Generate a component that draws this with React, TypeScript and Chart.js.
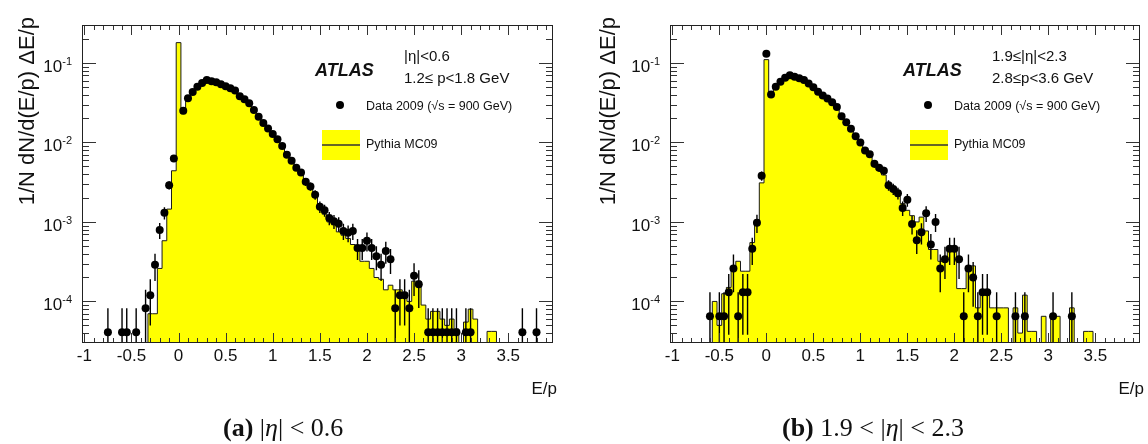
import React, { useEffect, useRef } from "react";
import { Chart, registerables } from "chart.js";

Chart.register(...registerables);

// ---------------- axis / binning ----------------
const BIN_WIDTH = 0.05;
const X_MIN = -1.025;
const X_MAX = 3.975;
const Y_MIN = 3e-5;
const Y_MAX = 0.3;

const xTickValues = [-1, -0.5, 0, 0.5, 1, 1.5, 2, 2.5, 3, 3.5];
const xTickLabels = ["-1", "-0.5", "0", "0.5", "1", "1.5", "2", "2.5", "3", "3.5"];
const yTickExponents = [-4, -3, -2, -1];
const yTickBase = "10";

const yTitle = "1/N dN/d(E/p) \u0394E/p";
const xTitle = "E/p";
const atlasLabel = "ATLAS";
const legendDataLabel = "Data 2009 (\u221As = 900 GeV)";
const legendMCLabel = "Pythia MC09";

// ---------------- panel (a): |eta| < 0.6, 1.2 <= p < 1.8 GeV ----------------
const etaTextA = "|\u03B7|<0.6";
const pTextA = "1.2\u2264 p<1.8 GeV";
const unitA = 4.1e-5; // level of a single entry
const dataA: [number, number][] = [
  [-0.75, 4.1e-5], [-0.6, 4.1e-5], [-0.55, 4.1e-5], [-0.45, 4.1e-5], [-0.35, 8.2e-5],
  [-0.3, 1.2e-4], [-0.25, 2.9e-4], [-0.2, 7.9e-4], [-0.15, 1.3e-3], [-0.1, 2.9e-3], [-0.05, 6.3e-3],
  [0.05, 0.025], [0.1, 0.036], [0.15, 0.043], [0.2, 0.05], [0.25, 0.056], [0.3, 0.061],
  [0.35, 0.059], [0.4, 0.057], [0.45, 0.054], [0.5, 0.051], [0.55, 0.048], [0.6, 0.045],
  [0.65, 0.038], [0.7, 0.035], [0.75, 0.031], [0.8, 0.0255], [0.85, 0.021], [0.9, 0.0175],
  [0.95, 0.015], [1.0, 0.0128], [1.05, 0.011], [1.1, 0.009], [1.15, 0.007], [1.2, 0.0059],
  [1.25, 0.0048], [1.3, 0.0042], [1.35, 0.0032], [1.4, 0.0028], [1.45, 0.0022], [1.5, 0.00155],
  [1.55, 0.0014], [1.6, 0.00112], [1.65, 0.00102], [1.7, 0.00095], [1.75, 0.00077], [1.8, 0.00073],
  [1.85, 0.00077], [1.9, 0.00047], [1.95, 0.00047], [2.0, 0.00058], [2.05, 0.00047], [2.1, 0.00037],
  [2.15, 0.00029], [2.2, 0.00043], [2.25, 0.00034], [2.3, 8.2e-5], [2.35, 1.2e-4], [2.4, 1.2e-4],
  [2.45, 8.2e-5], [2.5, 2.1e-4], [2.55, 1.65e-4],
  [2.65, 4.1e-5], [2.7, 4.1e-5], [2.75, 4.1e-5], [2.8, 4.1e-5], [2.85, 4.1e-5], [2.9, 4.1e-5],
  [2.95, 4.1e-5], [3.05, 4.1e-5], [3.1, 4.1e-5], [3.65, 4.1e-5], [3.8, 4.1e-5],
];
const mcStartA = -0.3; // centre of first MC bin
const mcValuesA = [
  7e-5, 7e-5, 2.6e-4, 5.8e-4, 1.45e-3, 4.4e-3,
  0.18, 0.023, 0.034, 0.042, 0.049, 0.055, 0.058, 0.058, 0.056, 0.053,
  0.05, 0.047, 0.043, 0.038, 0.034, 0.03, 0.025, 0.021, 0.0175, 0.0145,
  0.0122, 0.0102, 0.0085, 0.0068, 0.0057, 0.0047, 0.0039, 0.0031, 0.0026, 0.0021,
  0.0015, 0.00125, 0.001, 0.00092, 0.00075, 0.00068, 0.00062, 0.00052, 0.00047, 0.00032,
  0.00032, 0.00026, 0.0002, 0.00019, 0.00014, 0.00016, 0.00014, 0.00014, 0.00013, 0.0001,
  0.00018, 0.00018, 9e-5, 6e-5, 7.5e-5, 7.5e-5, 6e-5, 5e-5, 6e-5, 4.5e-5,
  0, 5.5e-5, 8e-5, 6e-5, 0, 0, 4.2e-5, 4.2e-5,
];

// ---------------- panel (b): 1.9 <= |eta| < 2.3, 2.8 <= p < 3.6 GeV ----------------
const etaTextB = "1.9\u2264|\u03B7|<2.3";
const pTextB = "2.8\u2264p<3.6 GeV";
const unitB = 6.5e-5;
const dataB: [number, number][] = [
  [-0.6, 6.5e-5], [-0.5, 6.5e-5], [-0.45, 6.5e-5], [-0.4, 1.3e-4], [-0.35, 2.6e-4],
  [-0.3, 6.5e-5], [-0.25, 1.3e-4], [-0.2, 1.3e-4], [-0.15, 4.6e-4], [-0.1, 9.8e-4], [-0.05, 3.8e-3],
  [0, 0.13], [0.05, 0.04], [0.1, 0.05], [0.15, 0.058], [0.2, 0.065], [0.25, 0.07], [0.3, 0.067],
  [0.35, 0.064], [0.4, 0.061], [0.45, 0.055], [0.5, 0.0495], [0.55, 0.0434], [0.6, 0.039],
  [0.65, 0.0357], [0.7, 0.032], [0.75, 0.028], [0.8, 0.0214], [0.85, 0.018], [0.9, 0.0149],
  [0.95, 0.012], [1.0, 0.01], [1.05, 0.0079], [1.1, 0.0071], [1.15, 0.0054], [1.2, 0.0048],
  [1.25, 0.0044], [1.3, 0.0029], [1.35, 0.0026], [1.4, 0.0023], [1.45, 0.0015], [1.5, 0.0019],
  [1.55, 9.4e-4], [1.6, 5.9e-4], [1.65, 7.4e-4], [1.7, 1.29e-3], [1.75, 5.2e-4], [1.8, 1.0e-3],
  [1.85, 2.6e-4], [1.9, 3.4e-4], [1.95, 4.6e-4], [2.0, 4.6e-4], [2.05, 3.4e-4], [2.1, 6.5e-5],
  [2.15, 2.6e-4], [2.2, 2.0e-4], [2.25, 6.5e-5], [2.3, 1.3e-4], [2.35, 1.3e-4], [2.45, 6.5e-5],
  [2.65, 6.5e-5], [2.75, 6.5e-5], [3.05, 6.5e-5], [3.25, 6.5e-5],
];
const mcStartB = -0.55;
const mcValuesB = [
  1.0e-4, 5e-5, 1.25e-4, 1.5e-4, 2.6e-4, 3.2e-4, 2.4e-4, 2.4e-4, 5.5e-4, 1.05e-3, 3.1e-3,
  0.11,
  0.038, 0.048, 0.056, 0.062, 0.066, 0.066, 0.063, 0.059, 0.054, 0.048,
  0.043, 0.038, 0.034, 0.03, 0.026, 0.021, 0.0175, 0.0145, 0.0118,
  0.0098, 0.008, 0.0068, 0.0055, 0.0046, 0.0039, 0.0031, 0.0026, 0.0021, 0.0017,
  0.0014, 0.0012, 0.001, 0.00115, 0.00077, 0.00045, 0.00045, 0.00032, 0.00035, 0.00047,
  0.00047, 1.45e-4, 1.45e-4, 2.8e-4, 2.8e-4, 8.3e-5, 1.3e-4, 1.3e-4, 8.3e-5, 8.3e-5,
  8.3e-5, 8.3e-5, 0, 8.3e-5, 4e-5, 1.2e-4, 4.2e-5, 4.2e-5, 0, 6.5e-5,
  0, 6.5e-5, 6.5e-5, 0, 0, 8.3e-5, 0, 0, 4.2e-5, 4.2e-5,
];

// ---------------- styling ----------------
const FONT = '"Liberation Sans", Arial, Helvetica, sans-serif';
const YELLOW = "#ffff00";
const INK = "#111";

type Panel = {
  data: [number, number][];
  mcStart: number;
  mcValues: number[];
  unit: number;
  etaText: string;
  pText: string;
  yAxisWidth: number;
  padRight: number;
  yTitleX: number;
};

const CANVAS_W = 574;
const CANVAS_H = 444;
const PLOT_TOP = 25;
const PLOT_BOTTOM = 343;

function histogramPoints(start: number, values: number[]) {
  const floor = Y_MIN / 10; // empty bins drop below the frame (clipped)
  const h = BIN_WIDTH / 2;
  const pts: { x: number; y: number }[] = [{ x: start - h, y: floor }];
  values.forEach((v, i) => pts.push({ x: start + i * BIN_WIDTH - h, y: v > 0 ? v : floor }));
  pts.push({ x: start + values.length * BIN_WIDTH - h, y: floor });
  return pts;
}

function rootPlugin(p: Panel) {
  return {
    id: "rootStyle",
    afterDatasetsDraw(chart: any) {
      const ctx = chart.ctx;
      const { left, right, top, bottom } = chart.chartArea;
      const ys = chart.scales.y;
      const xs = chart.scales.x;
      ctx.save();
      ctx.beginPath();
      ctx.rect(left, top, right - left, bottom - top);
      ctx.clip();
      ctx.strokeStyle = "#000";
      ctx.lineWidth = 1.4;
      ctx.beginPath();
      p.data.forEach(([x, v]) => {
        const err = Math.sqrt(v / p.unit) * p.unit;
        const hi = v + err;
        const lo = v - err;
        const px = xs.getPixelForValue(x);
        const yHi = ys.getPixelForValue(hi);
        const yLo = lo > Y_MIN ? ys.getPixelForValue(lo) : bottom;
        ctx.moveTo(px, yHi);
        ctx.lineTo(px, yLo);
      });
      ctx.stroke();
      ctx.restore();
    },
    afterDraw(chart: any) {
      const ctx = chart.ctx;
      const { left, right, top, bottom } = chart.chartArea;
      const xs = chart.scales.x;
      const ys = chart.scales.y;
      ctx.save();
      // ticks (inward, all four sides)
      ctx.strokeStyle = "#333";
      ctx.lineWidth = 1;
      ctx.beginPath();
      for (let k = -10; k <= 39; k++) {
        const px = Math.round(xs.getPixelForValue(k / 10)) + 0.5;
        const len = k % 5 === 0 ? 10 : 5;
        ctx.moveTo(px, bottom);
        ctx.lineTo(px, bottom - len);
        ctx.moveTo(px, top);
        ctx.lineTo(px, top + len);
      }
      for (let d = -5; d <= -1; d++) {
        for (let m = 1; m <= 9; m++) {
          const v = m * Math.pow(10, d);
          if (v <= Y_MIN * 1.0001 || v >= Y_MAX * 0.9999) continue;
          const py = Math.round(ys.getPixelForValue(v)) + 0.5;
          const len = m === 1 ? 14 : 7;
          ctx.moveTo(left, py);
          ctx.lineTo(left + len, py);
          ctx.moveTo(right, py);
          ctx.lineTo(right - len, py);
        }
      }
      ctx.stroke();
      // frame
      ctx.strokeStyle = "#222";
      ctx.strokeRect(left + 0.5, top + 0.5, right - left - 1, bottom - top - 1);

      ctx.fillStyle = INK;
      // y tick labels 10^n
      yTickExponents.forEach((e) => {
        const py = ys.getPixelForValue(Math.pow(10, e));
        const sup = String(e);
        ctx.font = `11px ${FONT}`;
        const supW = ctx.measureText(sup).width;
        ctx.textAlign = "right";
        ctx.textBaseline = "alphabetic";
        ctx.fillText(sup, left - 10, py + 2);
        ctx.font = `17px ${FONT}`;
        ctx.fillText(yTickBase, left - 10 - supW, py + 9);
      });

      // y title (rotated, top aligned)
      ctx.save();
      ctx.translate(p.yTitleX, 17);
      ctx.rotate(-Math.PI / 2);
      ctx.font = `22px ${FONT}`;
      ctx.textAlign = "right";
      ctx.textBaseline = "middle";
      ctx.fillText(yTitle, 0, 0);
      ctx.restore();

      // x title at right end
      ctx.font = `17px ${FONT}`;
      ctx.textAlign = "right";
      ctx.textBaseline = "alphabetic";
      ctx.fillText(xTitle, right + 4, 394);

      // ATLAS label and selections
      ctx.textAlign = "left";
      ctx.font = `italic bold 18px ${FONT}`;
      ctx.fillText(atlasLabel, left + 233, top + 51);
      ctx.font = `15px ${FONT}`;
      ctx.fillText(p.etaText, left + 322, top + 36);
      ctx.fillText(p.pText, left + 322, top + 58);

      // legend
      ctx.beginPath();
      ctx.fillStyle = "#000";
      ctx.arc(left + 258, top + 80, 4, 0, Math.PI * 2);
      ctx.fill();
      ctx.fillStyle = INK;
      ctx.font = `12.5px ${FONT}`;
      ctx.fillText(legendDataLabel, left + 284, top + 85);
      ctx.fillStyle = YELLOW;
      ctx.fillRect(left + 240, top + 105, 38, 30);
      ctx.strokeStyle = "#333";
      ctx.lineWidth = 1.5;
      ctx.beginPath();
      ctx.moveTo(left + 240, top + 120);
      ctx.lineTo(left + 278, top + 120);
      ctx.stroke();
      ctx.fillStyle = INK;
      ctx.fillText(legendMCLabel, left + 284, top + 123);
      ctx.restore();
    },
  };
}

function makeConfig(p: Panel): any {
  return {
    type: "line",
    data: {
      datasets: [
        {
          label: "Data 2009",
          data: p.data.map(([x, y]) => ({ x, y })),
          showLine: false,
          pointRadius: 4,
          pointHoverRadius: 4,
          pointBackgroundColor: "#000",
          pointBorderWidth: 0,
          clip: 5,
        },
        {
          label: "Pythia MC09",
          data: histogramPoints(p.mcStart, p.mcValues),
          stepped: "before",
          fill: "start",
          backgroundColor: YELLOW,
          borderColor: "#1a1a1a",
          borderWidth: 1,
          pointRadius: 0,
          pointHoverRadius: 0,
          clip: 0,
        },
      ],
    },
    options: {
      animation: false,
      responsive: false,
      events: [],
      layout: { padding: { left: 0, right: p.padRight, top: PLOT_TOP, bottom: 0 } },
      plugins: { legend: { display: false }, tooltip: { enabled: false }, title: { display: false } },
      scales: {
        x: {
          type: "linear",
          min: X_MIN,
          max: X_MAX,
          grid: { display: false, drawTicks: false },
          border: { display: false },
          afterBuildTicks: (scale: any) => {
            scale.ticks = xTickValues.map((v) => ({ value: v }));
          },
          afterFit: (scale: any) => {
            scale.height = CANVAS_H - PLOT_BOTTOM;
          },
          ticks: {
            autoSkip: false,
            maxRotation: 0,
            padding: 3,
            color: INK,
            font: { family: FONT, size: 17 },
            callback: (value: any) => {
              const i = xTickValues.indexOf(Number(value));
              return i >= 0 ? xTickLabels[i] : "";
            },
          },
        },
        y: {
          type: "logarithmic",
          min: Y_MIN,
          max: Y_MAX,
          grid: { display: false, drawTicks: false },
          border: { display: false },
          ticks: { display: false },
          afterFit: (scale: any) => {
            scale.width = p.yAxisWidth;
          },
        },
      },
    },
    plugins: [rootPlugin(p)],
  };
}

const panelA: Panel = {
  data: dataA,
  mcStart: mcStartA,
  mcValues: mcValuesA,
  unit: unitA,
  etaText: etaTextA,
  pText: pTextA,
  yAxisWidth: 82,
  padRight: 21,
  yTitleX: 28,
};

const panelB: Panel = {
  data: dataB,
  mcStart: mcStartB,
  mcValues: mcValuesB,
  unit: unitB,
  etaText: etaTextB,
  pText: pTextB,
  yAxisWidth: 96,
  padRight: 8,
  yTitleX: 35,
};

function PanelChart({ panel, left }: { panel: Panel; left: number }) {
  const ref = useRef<HTMLCanvasElement | null>(null);
  useEffect(() => {
    if (!ref.current) return;
    const chart = new Chart(ref.current, makeConfig(panel));
    return () => chart.destroy();
  }, [panel]);
  return (
    <canvas
      ref={ref}
      width={CANVAS_W}
      height={CANVAS_H}
      style={{ position: "absolute", left, top: 0, width: CANVAS_W, height: CANVAS_H, display: "block" }}
    />
  );
}

const captionStyle: React.CSSProperties = {
  position: "absolute",
  top: 415,
  font: '26px "Liberation Serif", "Times New Roman", serif',
  lineHeight: "26px",
  whiteSpace: "nowrap",
  color: "#111",
};

export default function App() {
  return (
    <div style={{ position: "absolute", left: 0, top: 0, width: 1148, height: 444, background: "#fff", overflow: "hidden" }}>
      <PanelChart panel={panelA} left={0} />
      <PanelChart panel={panelB} left={574} />
      <div style={{ ...captionStyle, left: 223 }}>
        <b>(a)</b> |<i>η</i>| &lt; 0.6
      </div>
      <div style={{ ...captionStyle, left: 782 }}>
        <b>(b)</b> 1.9 &lt; |<i>η</i>| &lt; 2.3
      </div>
    </div>
  );
}
